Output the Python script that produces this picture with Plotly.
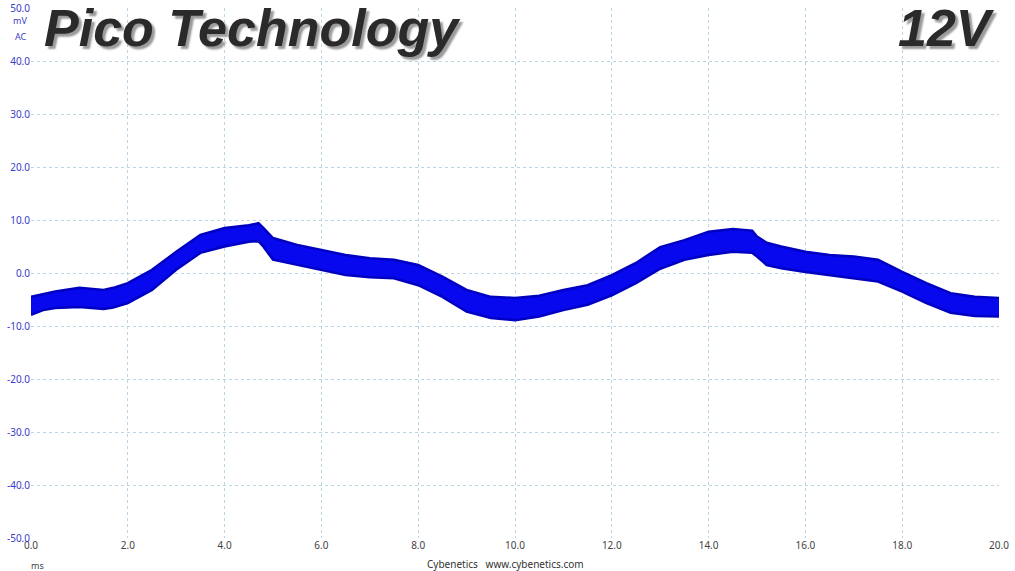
import plotly.graph_objects as go

# Time axis (ms) and envelope of the ripple trace (mV AC)
t_ms = [0.0, 0.25, 0.5, 1.0, 1.5, 1.7, 2.0, 2.5, 3.0, 3.5, 4.0, 4.5, 4.7, 4.8, 5.0,
        5.5, 6.0, 6.5, 7.0, 7.5, 8.0, 8.5, 9.0, 9.5, 10.0, 10.5, 11.0, 11.5, 12.0,
        12.5, 13.0, 13.5, 14.0, 14.5, 14.9, 15.0, 15.2, 15.5, 16.0, 16.5, 17.0,
        17.5, 18.0, 18.5, 19.0, 19.5, 20.0]
upper_mv = [-4.5, -4.0, -3.5, -2.8, -3.2, -2.8, -1.9, 0.6, 4.0, 7.2, 8.5, 9.0, 9.4, 8.5, 6.6,
            5.3, 4.3, 3.4, 2.8, 2.5, 1.5, -0.7, -3.2, -4.5, -4.7, -4.3, -3.2, -2.3, -0.4,
            1.9, 4.9, 6.2, 7.8, 8.3, 8.0, 6.9, 5.7, 5.0, 4.0, 3.4, 3.1,
            2.5, 0.2, -1.9, -3.8, -4.5, -4.7]
lower_mv = [-7.9, -7.0, -6.6, -6.4, -6.8, -6.5, -5.7, -3.2, 0.6, 3.8, 5.0, 5.9, 6.0, 5.0, 2.5,
            1.5, 0.6, -0.4, -0.8, -1.0, -2.3, -4.5, -7.3, -8.5, -8.9, -8.2, -7.0, -6.0, -4.2,
            -1.9, 0.8, 2.5, 3.4, 4.0, 3.8, 3.1, 1.5, 0.9, 0.2, -0.4, -1.0,
            -1.6, -3.5, -5.7, -7.5, -8.1, -8.2]

x_ticks = [0, 2, 4, 6, 8, 10, 12, 14, 16, 18, 20]
y_ticks = [-50, -40, -30, -20, -10, 0, 10, 20, 30, 40, 50]

trace_fill = "#0808ee"
trace_edge = "#0000c0"
grid_col = "#b9d6e2"

fig = go.Figure()
fig.add_trace(go.Scatter(x=t_ms, y=lower_mv, mode="lines", line=dict(color=trace_edge, width=2.5),
                         hoverinfo="skip", showlegend=False))
fig.add_trace(go.Scatter(x=t_ms, y=upper_mv, mode="lines", line=dict(color=trace_edge, width=2.5),
                         fill="tonexty", fillcolor=trace_fill, hoverinfo="skip", showlegend=False))

title_font = dict(family="Liberation Sans, Arial, sans-serif", size=52, color="#2a2a2a",
                  style="italic", weight="bold", shadow="3px 3px 2px #9a9a9a")

small = "Noto Sans, Open Sans, sans-serif"

fig.update_layout(
    width=1015, height=571,
    margin=dict(l=31, r=16, t=8, b=33),
    paper_bgcolor="white", plot_bgcolor="white",
    xaxis=dict(range=[0, 20], tickvals=x_ticks, ticktext=[f"{v:.1f}" for v in x_ticks],
               showgrid=True, gridcolor=grid_col, griddash="dot", gridwidth=1,
               zeroline=False, showline=False, ticks="", automargin=False,
               tickfont=dict(family=small, size=10, color="#444444")),
    yaxis=dict(range=[-50, 50], tickvals=y_ticks, ticktext=[f"{v:.1f}" for v in y_ticks],
               showgrid=True, gridcolor=grid_col, griddash="dot", gridwidth=1,
               zeroline=False, showline=False, ticks="", automargin=False,
               tickfont=dict(family=small, size=10, color="#3c3cc8")),
    annotations=[
        dict(text="mV", xref="paper", yref="paper", x=-0.002, y=0.9755, xanchor="right", yanchor="middle",
             showarrow=False, font=dict(family=small, size=9, color="#3c3cc8")),
        dict(text="AC", xref="paper", yref="paper", x=-0.002, y=0.947, xanchor="right", yanchor="middle",
             showarrow=False, font=dict(family=small, size=9, color="#3c3cc8")),
        dict(text="ms", xref="paper", yref="paper", x=0.0072, y=-0.051, xanchor="center", yanchor="middle",
             showarrow=False, font=dict(family=small, size=9, color="#444444")),
        dict(text="Cybenetics   www.cybenetics.com", xref="paper", yref="paper", x=0.49, y=-0.049,
             xanchor="center", yanchor="middle", showarrow=False,
             font=dict(family=small, size=10, color="#333333")),
        dict(text="Pico Technology", xref="paper", yref="paper", x=0.011, y=0.962, xanchor="left",
             yanchor="middle", showarrow=False, font=title_font),
        dict(text="12V", xref="paper", yref="paper", x=0.998, y=0.962, xanchor="right",
             yanchor="middle", showarrow=False, font=title_font),
    ],
)

fig.write_html("out.html", config={"displayModeBar": False},
               post_script="document.body.style.margin='0';")
